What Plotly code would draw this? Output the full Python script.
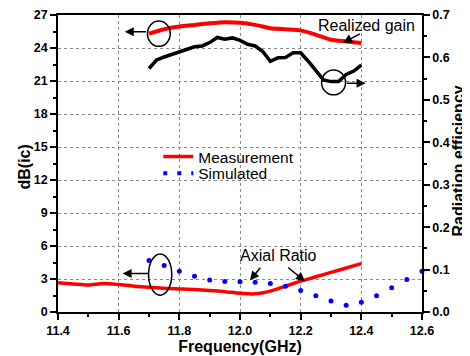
import plotly.graph_objects as go

# Realized gain (measured), dB(ic), left axis
freq_gain = [11.70, 11.75, 11.80, 11.85, 11.90, 11.95, 12.00, 12.05, 12.10,
             12.15, 12.20, 12.25, 12.30, 12.35, 12.40]
gain_db = [25.3, 25.7, 25.95, 26.1, 26.25, 26.35, 26.3, 26.1, 25.8,
           25.7, 25.6, 25.2, 24.75, 24.6, 24.45]

# Radiation efficiency, right axis
freq_eff = [11.700, 11.725, 11.750, 11.775, 11.800, 11.825, 11.850, 11.875, 11.900,
            11.925, 11.950, 11.975, 12.000, 12.025, 12.050, 12.075, 12.100, 12.125,
            12.150, 12.175, 12.200, 12.225, 12.250, 12.275, 12.300, 12.325, 12.350,
            12.375, 12.400]
efficiency = [0.574, 0.594, 0.601, 0.607, 0.612, 0.618, 0.625, 0.627, 0.635,
              0.647, 0.643, 0.646, 0.640, 0.631, 0.627, 0.614, 0.591, 0.599,
              0.600, 0.611, 0.611, 0.591, 0.568, 0.547, 0.543, 0.543, 0.560,
              0.568, 0.582]

# Axial ratio measured, dB
freq_ar_meas = [11.40, 11.45, 11.50, 11.55, 11.60, 11.65, 11.70, 11.75, 11.80,
                11.85, 11.90, 11.95, 12.00, 12.05, 12.10, 12.15, 12.20, 12.25,
                12.30, 12.35, 12.40]
ar_meas = [2.65, 2.55, 2.45, 2.6, 2.5, 2.35, 2.25, 2.15, 2.1,
           2.05, 1.95, 1.85, 1.7, 1.65, 1.9, 2.35, 2.8, 3.2,
           3.6, 4.0, 4.4]

# Axial ratio simulated, dB
freq_ar_sim = [11.70, 11.75, 11.80, 11.85, 11.90, 11.95, 12.00, 12.05, 12.10,
               12.15, 12.20, 12.25, 12.30, 12.35, 12.40, 12.45, 12.50, 12.55, 12.60]
ar_sim = [4.68, 4.23, 3.71, 3.26, 2.92, 2.77, 2.74, 2.71, 2.6,
          2.35, 1.95, 1.47, 0.99, 0.62, 0.89, 1.47, 2.2, 2.95, 3.7]

x_ticks = [11.4, 11.6, 11.8, 12.0, 12.2, 12.4, 12.6]
left_ticks = [0, 3, 6, 9, 12, 15, 18, 21, 24, 27]
right_ticks = [0.0, 0.1, 0.2, 0.3, 0.4, 0.5, 0.6, 0.7]

FONT = "Liberation Sans, Arial, sans-serif"
RED = "#FF0000"
BLUE = "#0000FF"

fig = go.Figure()
fig.add_trace(go.Scatter(x=freq_ar_meas, y=ar_meas, mode="lines", name="Measurement",
                         legend="legend",
                         line=dict(color=RED, width=3.5, shape="spline", smoothing=0.6)))
fig.add_trace(go.Scatter(x=[None], y=[None], mode="lines", name="Simulated",
                         legend="legend2",
                         line=dict(color=BLUE, width=4, dash="4px,10px")))
fig.add_trace(go.Scatter(x=freq_ar_sim, y=ar_sim, mode="markers", showlegend=False,
                         cliponaxis=False, marker=dict(color=BLUE, size=5)))
fig.add_trace(go.Scatter(x=freq_gain, y=gain_db, mode="lines", showlegend=False,
                         line=dict(color=RED, width=4, shape="spline", smoothing=0.6)))
fig.add_trace(go.Scatter(x=freq_eff, y=efficiency, mode="lines", showlegend=False,
                         yaxis="y2", line=dict(color="black", width=3.5)))

tickfont = dict(family=FONT, size=12.5, color="black", weight="bold")
titlefont = dict(family=FONT, size=16, color="black", weight="bold")
GRID = "#8a8a8a"
GDASH = "3px,3px"

legend_common = dict(xanchor="left", yanchor="middle", bgcolor="rgba(0,0,0,0)",
                     borderwidth=0, font=dict(family=FONT, size=15.5, color="black"))

# The page body adds an 8px offset, so the figure is sized to fit the window.
fig.update_layout(
    width=462, height=348,
    margin=dict(l=49.5, r=47.5, t=7, b=43.5),
    paper_bgcolor="white", plot_bgcolor="white",
    font=dict(family=FONT, color="black"),
    xaxis=dict(range=[11.4, 12.6], tickvals=x_ticks, tickformat=".1f", automargin=False,
               ticks="outside", ticklen=6, tickwidth=1.5, tickcolor="black",
               minor=dict(dtick=0.1, ticks="outside", ticklen=3, tickwidth=1.5, tickcolor="black", showgrid=False),
               showline=True, linecolor="black", linewidth=1.5, mirror=True,
               showgrid=True, gridcolor=GRID, griddash=GDASH, gridwidth=1,
               zeroline=False, tickfont=tickfont,
               title=dict(text="Frequency(GHz)", font=titlefont, standoff=3)),
    yaxis=dict(range=[0, 27], tickvals=left_ticks, automargin=False,
               ticks="outside", ticklen=6, tickwidth=1.5, tickcolor="black",
               minor=dict(dtick=1.5, ticks="outside", ticklen=3, tickwidth=1.5, tickcolor="black", showgrid=False),
               showline=True, linecolor="black", linewidth=1.5,
               showgrid=True, gridcolor=GRID, griddash=GDASH, gridwidth=1,
               zeroline=False, tickfont=tickfont),
    yaxis2=dict(range=[0, 0.7], tickvals=right_ticks, tickformat=".1f", automargin=False,
                overlaying="y", side="right",
                ticks="outside", ticklen=6, tickwidth=1.5, tickcolor="black",
                minor=dict(dtick=0.05, ticks="outside", ticklen=3, tickwidth=1.5, tickcolor="black", showgrid=False),
                showline=True, linecolor="black", linewidth=1.5,
                showgrid=False, zeroline=False, tickfont=tickfont),
    legend=dict(x=0.2755, y=0.522, **legend_common),
    legend2=dict(x=0.2755, y=0.466, **legend_common),
    showlegend=True,
)

# Axis titles for the two y axes
fig.add_annotation(x=-0.093, y=0.487, xref="paper", yref="paper", text="dB(ic)",
                   textangle=-90, showarrow=False, font=titlefont,
                   xanchor="center", yanchor="middle")
fig.add_annotation(x=1.099, y=0.507, xref="paper", yref="paper", text="Radiation efficiency",
                   textangle=-90, showarrow=False, font=titlefont,
                   xanchor="center", yanchor="middle")

# Ellipses marking the curves
ellipses = [
    (11.695, 11.770, 24.15, 26.45),
    (12.269, 12.348, 19.74, 22.0),
    (11.6985, 11.775, 1.52, 5.28),
]
for x0, x1, y0, y1 in ellipses:
    fig.add_shape(type="circle", xref="x", yref="y", x0=x0, x1=x1, y0=y0, y1=y1,
                  line=dict(color="black", width=1.5))

# Arrows (head at x,y ; tail at ax,ay)
arrows = [
    (11.62, 25.48, 11.695, 25.48),
    (12.414, 20.8, 12.347, 20.8),
    (11.613, 3.49, 11.702, 3.49),
    (12.34, 24.48, 12.40, 25.36),
    (12.033, 2.89, 12.071, 4.16),
    (12.214, 2.79, 12.154, 4.16),
]
for x, y, ax, ay in arrows:
    fig.add_annotation(x=x, y=y, ax=ax, ay=ay, xref="x", yref="y", axref="x", ayref="y",
                       text="", showarrow=True, arrowhead=2, arrowsize=1.2,
                       arrowwidth=1.5, arrowcolor="black")

fig.add_annotation(x=12.417, y=26.04, xref="x", yref="y", text="Realized gain",
                   showarrow=False, font=dict(family=FONT, size=16, color="black"))
fig.add_annotation(x=12.128, y=5.13, xref="x", yref="y", text="Axial Ratio",
                   showarrow=False, font=dict(family=FONT, size=16, color="black"))

fig.write_html("out.html")
